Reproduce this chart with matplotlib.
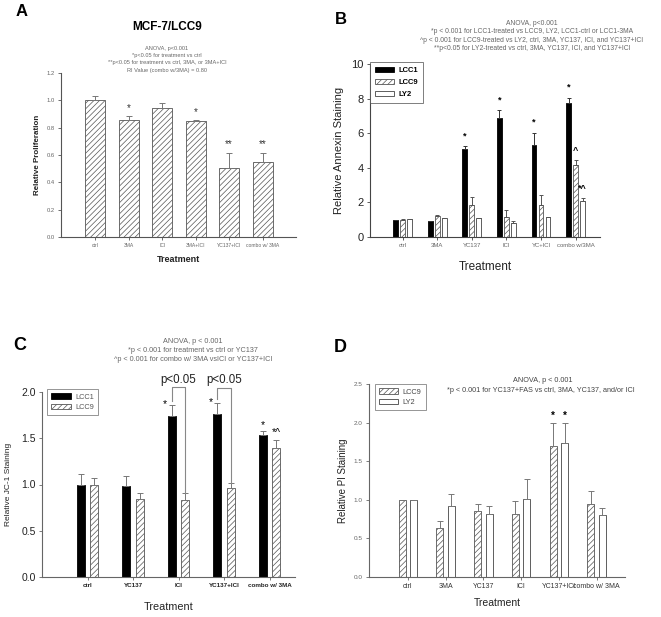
import matplotlib
matplotlib.use('Agg')
from matplotlib import pyplot as plt
import numpy as np

plt.rcParams['font.family'] = ['Liberation Sans', 'DejaVu Sans']
plt.rcParams['hatch.linewidth'] = 0.5

W, H = 661, 617

# ---- panel A: MCF-7/LCC9 proliferation
a_labels = ['ctrl', '3MA', 'ICI', '3MA+ICI', 'YC137+ICI', 'combo w/ 3MA']
a_vals = [1.00, 0.855, 0.947, 0.849, 0.506, 0.55]
a_err = [0.03, 0.027, 0.032, 0.006, 0.11, 0.065]
a_marks = ['', '*', '', '*', '**', '**']
a_notes = ['ANOVA, p<0.001',
           '*p<0.05 for treatment vs ctrl',
           '**p<0.05 for treatment vs ctrl, 3MA, or 3MA+ICI',
           'RI Value (combo w/3MA) = 0.80']

# ---- panel B: annexin staining
b_labels = ['ctrl', '3MA', 'YC137', 'ICI', 'YC+ICI', 'combo w/3MA']
b_lcc1 = [1.0, 0.92, 5.07, 6.85, 5.32, 7.75]
b_lcc1_err = [0.0, 0.03, 0.17, 0.47, 0.70, 0.29]
b_lcc9 = [1.0, 1.24, 1.83, 1.17, 1.87, 4.17]
b_lcc9_err = [0.03, 0.03, 0.50, 0.38, 0.58, 0.28]
b_ly2 = [1.02, 1.07, 1.08, 0.82, 1.13, 2.06]
b_ly2_err = [0.0, 0.02, 0.0, 0.13, 0.0, 0.20]
b_marks_lcc1 = ['', '', '*', '*', '*', '*']
b_marks_lcc9 = ['', '', '', '', '', '^']
b_marks_ly2 = ['', '', '', '', '', '*^']
b_notes = ['ANOVA, p<0.001',
           '*p < 0.001 for LCC1-treated vs LCC9, LY2, LCC1-ctrl or LCC1-3MA',
           '^p < 0.001 for LCC9-treated vs LY2, ctrl, 3MA, YC137, ICI, and YC137+ICI',
           '**p<0.05 for LY2-treated vs ctrl, 3MA, YC137, ICI, and YC137+ICI']

# ---- panel C: JC-1 staining
c_labels = ['ctrl', 'YC137', 'ICI', 'YC137+ICI', 'combo w/ 3MA']
c_lcc1 = [1.0, 0.987, 1.74, 1.76, 1.53]
c_lcc1_err = [0.11, 0.10, 0.12, 0.12, 0.045]
c_lcc9 = [1.0, 0.84, 0.83, 0.965, 1.40]
c_lcc9_err = [0.075, 0.065, 0.08, 0.055, 0.08]
c_marks_lcc1 = ['', '', '*', '*', '*']
c_marks_lcc9 = ['', '', '', '', '*^']
c_notes = ['ANOVA, p < 0.001',
           '*p < 0.001 for treatment vs ctrl or YC137',
           '^p < 0.001 for combo w/ 3MA vsICI or YC137+ICI']

# ---- panel D: PI staining
d_labels = ['ctrl', '3MA', 'YC137', 'ICI', 'YC137+ICI', 'combo w/ 3MA']
d_lcc9 = [1.0, 0.63, 0.86, 0.82, 1.70, 0.94]
d_lcc9_err = [0.0, 0.09, 0.09, 0.17, 0.30, 0.17]
d_ly2 = [1.0, 0.925, 0.81, 1.015, 1.73, 0.80]
d_ly2_err = [0.0, 0.155, 0.105, 0.255, 0.27, 0.10]
d_marks = ['', '', '', '', '*', '']
d_notes = ['ANOVA, p < 0.001',
           '*p < 0.001 for YC137+FAS vs ctrl, 3MA, YC137, and/or ICI']

GRAY = '#666666'
HATCH = '#555555'


def fig_rect(left, top, right, bottom):
    return [left / W, 1 - bottom / H, (right - left) / W, (bottom - top) / H]


def ftext(x, y, s, **kw):
    fig.text(x / W, 1 - y / H, s, **kw)


def style_axes(ax, spine_color='#555555'):
    for side in ['top', 'right']:
        ax.spines[side].set_visible(False)
    for side in ['left', 'bottom']:
        ax.spines[side].set_color(spine_color)
        ax.spines[side].set_linewidth(0.8)
    ax.tick_params(direction='out', length=2.5, width=0.6, color=spine_color, pad=2)


def draw_bars(ax, x, vals, errs, width, kind, ecolor, capsize=2.0):
    if kind == 'black':
        fc, ec, hatch = 'black', 'black', None
    elif kind == 'hatch':
        fc, ec, hatch = 'white', HATCH, '//////'
    else:
        fc, ec, hatch = 'white', '#444444', None
    bars = ax.bar(x, vals, width, color=fc, edgecolor=ec, hatch=hatch, linewidth=0.6, zorder=2)
    ax.errorbar(x, vals, yerr=[np.zeros(len(vals)), errs], fmt='none', ecolor=ecolor,
                elinewidth=0.7, capsize=capsize, capthick=0.7, zorder=3)
    return bars


def add_marks(ax, x, vals, errs, marks, pad, **kw):
    for xi, v, e, m in zip(x, vals, errs, marks):
        if m:
            ax.text(xi, v + e + pad, m, ha='center', va='bottom', **kw)


fig = plt.figure(figsize=(W / 100, H / 100), dpi=100)

# ================= A
ax = fig.add_axes(fig_rect(61, 73, 296, 237))
xa = np.arange(len(a_labels))
draw_bars(ax, xa, a_vals, a_err, 0.6, 'hatch', '#777777')
add_marks(ax, xa, a_vals, a_err, a_marks, 0.025, fontsize=7, color='#333333')
ax.set_xlim(-1.03, 6.0)
ax.set_ylim(0, 1.2)
ax.set_yticks(np.arange(0, 1.21, 0.2))
ax.set_yticklabels(['%.1f' % t for t in np.arange(0, 1.21, 0.2)])
ax.set_xticks(xa)
ax.set_xticklabels(a_labels)
style_axes(ax)
ax.tick_params(axis='y', labelsize=4.2, labelcolor=GRAY)
ax.tick_params(axis='x', labelsize=3.6, labelcolor=GRAY)
ax.set_ylabel('Relative Proliferation', fontsize=5.8, fontweight='bold', color='#222222')
ax.yaxis.set_label_coords(-0.085, 0.5)
ax.set_xlabel('Treatment', fontsize=6.5, fontweight='bold', color='#222222')
ax.xaxis.set_label_coords(0.5, -0.107)
ftext(22, 11, 'A', fontsize=12, fontweight='bold', ha='center', va='center')
ftext(167, 27, 'MCF-7/LCC9', fontsize=8.5, fontweight='bold', ha='center', va='center')
for i, line in enumerate(a_notes):
    ftext(167, 48.5 + i * 7.2, line, fontsize=4.1, color=GRAY, ha='center', va='center')

# ================= B
ax = fig.add_axes(fig_rect(370, 64, 600, 237))
xb = np.arange(len(b_labels))
off, bw = 0.202, 0.136
h1 = draw_bars(ax, xb - off, b_lcc1, b_lcc1_err, bw, 'black', '#333333', 1.5)
h2 = draw_bars(ax, xb, b_lcc9, b_lcc9_err, bw, 'hatch', '#555555', 1.5)
h3 = draw_bars(ax, xb + off, b_ly2, b_ly2_err, bw, 'open', '#555555', 1.5)
add_marks(ax, xb - off, b_lcc1, b_lcc1_err, b_marks_lcc1, 0.35, fontsize=6.5, fontweight='bold')
add_marks(ax, xb, b_lcc9, b_lcc9_err, b_marks_lcc9, 0.3, fontsize=6.5, fontweight='bold')
add_marks(ax, xb + off, b_ly2, b_ly2_err, b_marks_ly2, 0.3, fontsize=6.5, fontweight='bold')
ax.set_xlim(-0.94, 5.7)
ax.set_ylim(0, 10)
ax.set_yticks([0, 2, 4, 6, 8, 10])
ax.set_xticks(xb)
ax.set_xticklabels(b_labels)
style_axes(ax, '#444444')
ax.tick_params(axis='y', labelsize=8, labelcolor='#222222')
ax.tick_params(axis='x', labelsize=4.3, labelcolor=GRAY)
ax.set_ylabel('Relative Annexin Staining', fontsize=8, color='#222222')
ax.yaxis.set_label_coords(-0.111, 0.5)
ax.set_xlabel('Treatment', fontsize=8.5, color='#222222')
ax.xaxis.set_label_coords(0.5, -0.139)
leg = ax.legend([h1, h2, h3], ['LCC1', 'LCC9', 'LY2'], loc='upper left',
                bbox_to_anchor=(0.0, 1.012), borderaxespad=0, fancybox=False,
                edgecolor='#444444', handlelength=2.4, handleheight=0.6,
                labelspacing=0.6, borderpad=0.7, handletextpad=0.6,
                prop={'weight': 'bold', 'size': 5.5})
leg.get_frame().set_linewidth(0.6)
ftext(341, 19, 'B', fontsize=12, fontweight='bold', ha='center', va='center')
for i, line in enumerate(b_notes):
    ftext(532, 23.3 + i * 8.5, line, fontsize=4.9, color=GRAY, ha='center', va='center')

# ================= C
ax = fig.add_axes(fig_rect(42, 392, 295, 577))
xc = np.arange(len(c_labels))
off, bw = 0.147, 0.176
h1 = draw_bars(ax, xc - off, c_lcc1, c_lcc1_err, bw, 'black', '#777777')
h2 = draw_bars(ax, xc + off, c_lcc9, c_lcc9_err, bw, 'hatch', '#777777')
# stars on the bracketed groups sit to the left of the bar
for i in range(len(c_labels)):
    top = c_lcc1[i] + c_lcc1_err[i]
    if c_marks_lcc1[i] and i in (2, 3):
        ax.text(xc[i] - 2 * off, top - 0.04, c_marks_lcc1[i], ha='center', va='bottom', fontsize=7.5)
    elif c_marks_lcc1[i]:
        ax.text(xc[i] - off, top + 0.01, c_marks_lcc1[i], ha='center', va='bottom', fontsize=7.5)
add_marks(ax, xc + off, c_lcc9, c_lcc9_err, c_marks_lcc9, 0.02, fontsize=7.5)
# p<0.05 brackets over ICI and YC137+ICI
for i, ytop in [(2, 2.05), (3, 2.04)]:
    x1, x2 = xc[i] - off, xc[i] + off
    y1 = c_lcc1[i] + c_lcc1_err[i] + 0.04
    y2 = c_lcc9[i] + c_lcc9_err[i]
    ax.plot([x1, x1, x2, x2], [y1, ytop, ytop, y2], color='#888888', lw=0.8, clip_on=False, zorder=4)
    ax.text(xc[i], ytop + 0.02, 'p<0.05', ha='center', va='bottom', fontsize=8.3, color='#222222')
ax.set_xlim(-1.0, 4.56)
ax.set_ylim(0, 2.0)
ax.set_yticks([0, 0.5, 1.0, 1.5, 2.0])
ax.set_yticklabels(['0.0', '0.5', '1.0', '1.5', '2.0'])
ax.set_xticks(xc)
ax.set_xticklabels(c_labels, fontweight='bold')
style_axes(ax, '#666666')
ax.tick_params(axis='y', labelsize=7.5, labelcolor='#222222')
ax.tick_params(axis='x', labelsize=4.5, labelcolor='#222222')
ax.set_ylabel('Relative JC-1 Staining', fontsize=6, color='#222222')
ax.yaxis.set_label_coords(-0.119, 0.5)
ax.set_xlabel('Treatment', fontsize=7.8, color='#222222')
ax.xaxis.set_label_coords(0.5, -0.135)
leg = ax.legend([h1, h2], ['LCC1', 'LCC9'], loc='upper left',
                bbox_to_anchor=(0.02, 1.016), borderaxespad=0, fancybox=False,
                edgecolor='#666666', fontsize=5.3, handlelength=2.6, handleheight=0.7,
                labelspacing=0.4, borderpad=0.6, handletextpad=0.6, labelcolor='#555555')
leg.get_frame().set_linewidth(0.6)
ftext(20, 346, 'C', fontsize=13, fontweight='bold', ha='center', va='center')
for i, line in enumerate(c_notes):
    ftext(193, 341.7 + i * 8.7, line, fontsize=5.2, color=GRAY, ha='center', va='center')

# ================= D
ax = fig.add_axes(fig_rect(369, 384, 625, 577))
xd = np.arange(len(d_labels))
off, bw = 0.151, 0.186
h1 = draw_bars(ax, xd - off, d_lcc9, d_lcc9_err, bw, 'hatch', '#777777')
h2 = draw_bars(ax, xd + off, d_ly2, d_ly2_err, bw, 'open', '#777777')
for i, m in enumerate(d_marks):
    if m:
        ax.text(xd[i] - off, d_lcc9[i] + d_lcc9_err[i] + 0.02, m, ha='center', va='bottom',
                fontsize=7, fontweight='bold')
        ax.text(xd[i] + off, d_ly2[i] + d_ly2_err[i] + 0.02, m, ha='center', va='bottom',
                fontsize=7, fontweight='bold')
ax.set_xlim(-1.03, 5.75)
ax.set_ylim(0, 2.5)
ax.set_yticks([0, 0.5, 1.0, 1.5, 2.0, 2.5])
ax.set_yticklabels(['0.0', '0.5', '1.0', '1.5', '2.0', '2.5'])
ax.set_xticks(xd)
ax.set_xticklabels(d_labels)
style_axes(ax, '#666666')
ax.tick_params(axis='y', labelsize=4.6, labelcolor=GRAY)
ax.tick_params(axis='x', labelsize=5, labelcolor='#333333')
ax.set_ylabel('Relative PI Staining', fontsize=7, color='#222222')
ax.yaxis.set_label_coords(-0.082, 0.5)
ax.set_xlabel('Treatment', fontsize=7.5, color='#222222')
ax.xaxis.set_label_coords(0.5, -0.107)
leg = ax.legend([h1, h2], ['LCC9', 'LY2'], loc='upper left',
                bbox_to_anchor=(0.023, 1.0), borderaxespad=0, fancybox=False,
                edgecolor='#666666', fontsize=5.3, handlelength=2.6, handleheight=0.7,
                labelspacing=0.4, borderpad=0.6, handletextpad=0.6, labelcolor='#444444')
leg.get_frame().set_linewidth(0.6)
ftext(340, 347, 'D', fontsize=13, fontweight='bold', ha='center', va='center')
ftext(543, 380.7, d_notes[0], fontsize=5.2, color='#444444', ha='center', va='center')
ftext(540.5, 391, d_notes[1], fontsize=5.2, color='#444444', ha='center', va='center')

fig.savefig('out.png', dpi=100)
